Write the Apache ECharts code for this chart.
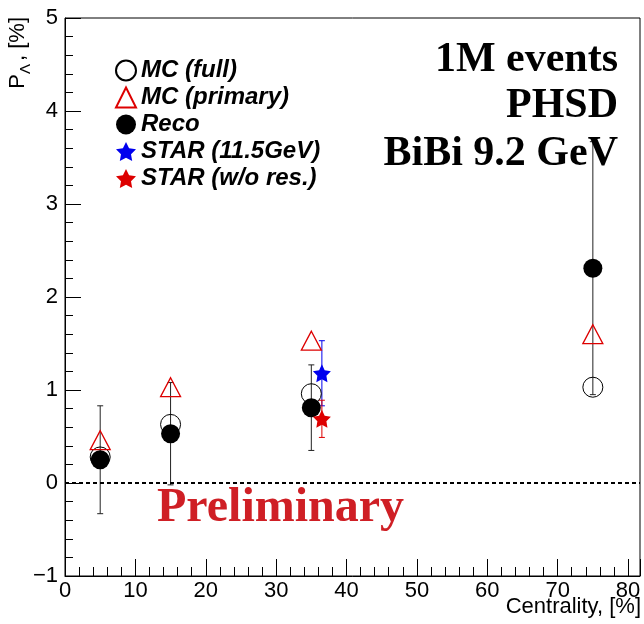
<!DOCTYPE html>
<html>
<head>
<meta charset="utf-8">
<script src="https://cdn.jsdelivr.net/npm/echarts@6/dist/echarts.min.js"></script>
<style>
  html, body { margin: 0; padding: 0; background: #fff; }
  #chart { width: 644px; height: 624px; }
</style>
</head>
<body>
<div id="chart"></div>
<script>
// centrality bins
const centrality = [5, 15, 35, 75];
// MC (full)
const mcFull = [0.28, 0.63, 0.96, 1.03];
// MC (primary)
const mcPrimary = [0.46, 1.03, 1.53, 1.60];
// Reco with errors
const reco = [0.25, 0.53, 0.81, 2.31];
const recoErr = [0.58, 0.55, 0.46, 1.36];
// STAR points
const starX = [36.5];
const star115 = [1.18];
const star115Err = [0.35];
const starNoRes = [0.69];
const starNoResErr = [0.2];

const sans = 'Liberation Sans, Arial, sans-serif';
const serif = 'Liberation Serif, Times New Roman, serif';
const starPath = 'path://M0,-10L2.94,-4.05L9.51,-3.09L4.76,1.55L5.88,8.09L0,5L-5.88,8.09L-4.76,1.55L-9.51,-3.09L-2.94,-4.05Z';

const pairs = (xs, ys) => xs.map((x, i) => [x, ys[i]]);
const triples = (xs, ys, es) => xs.map((x, i) => [x, ys[i], es[i]]);

// vertical error bar with small caps
function errBar(color) {
  return function (params, api) {
    const x = api.value(0), y = api.value(1), e = api.value(2);
    const top = api.coord([x, y + e]);
    const bot = api.coord([x, y - e]);
    const w = 3;
    const st = { stroke: color, lineWidth: 1 };
    return {
      type: 'group',
      children: [
        { type: 'line', shape: { x1: top[0], y1: top[1], x2: bot[0], y2: bot[1] }, style: st },
        { type: 'line', shape: { x1: top[0] - w, y1: top[1], x2: top[0] + w, y2: top[1] }, style: st },
        { type: 'line', shape: { x1: bot[0] - w, y1: bot[1], x2: bot[0] + w, y2: bot[1] }, style: st }
      ]
    };
  };
}

const chart = echarts.init(document.getElementById('chart'));

const option = {
  animation: false,
  backgroundColor: '#fff',
  grid: {
    left: 65, top: 18, right: 4, bottom: 48,
    show: true, borderColor: '#000', borderWidth: 1, backgroundColor: 'transparent'
  },
  xAxis: {
    type: 'value', min: 0, max: 81.7, interval: 10,
    axisLine: { onZero: false, lineStyle: { color: '#000', width: 1 } },
    axisTick: { inside: true, length: 17, lineStyle: { color: '#000' } },
    minorTick: { show: true, splitNumber: 5, length: 9, lineStyle: { color: '#000' } },
    splitLine: { show: false },
    axisLabel: { showMaxLabel: false, color: '#000', fontFamily: sans, fontSize: 22, margin: 4 }
  },
  yAxis: {
    type: 'value', min: -1, max: 5, interval: 1,
    axisLine: { show: true, onZero: false, lineStyle: { color: '#000', width: 1 } },
    axisTick: { show: true, inside: true, length: 16, lineStyle: { color: '#000' } },
    minorTick: { show: true, splitNumber: 5, length: 8, lineStyle: { color: '#000' } },
    splitLine: { show: false },
    axisLabel: {
      color: '#000', fontFamily: sans, fontSize: 22, margin: 7,
      formatter: v => (v < 0 ? '\u2212' + (-v) : String(v))
    }
  },
  legend: {
    left: 110, top: 52, orient: 'vertical',
    itemWidth: 20, itemHeight: 20, itemGap: 0,
    textStyle: {
      color: '#000', fontFamily: sans, fontSize: 24, fontStyle: 'italic', fontWeight: 'bold',
      lineHeight: 27, padding: [0, 0, 0, 0]
    },
    data: ['MC (full)', 'MC (primary)', 'Reco', 'STAR (11.5GeV)', 'STAR (w/o res.)']
  },
  series: [
    {
      type: 'custom', name: 'recoErr', renderItem: errBar('#222'), silent: true,
      encode: { x: 0, y: 1 }, data: triples(centrality, reco, recoErr), z: 1
    },
    {
      type: 'custom', name: 'star115Err', renderItem: errBar('#0000ee'), silent: true,
      encode: { x: 0, y: 1 }, data: triples(starX, star115, star115Err), z: 1
    },
    {
      type: 'custom', name: 'starNoResErr', renderItem: errBar('#dd0000'), silent: true,
      encode: { x: 0, y: 1 }, data: triples(starX, starNoRes, starNoResErr), z: 1
    },
    {
      type: 'scatter', name: 'MC (full)', symbol: 'circle', symbolSize: 20, z: 3,
      itemStyle: { color: 'rgba(255,255,255,0)', borderColor: '#000', borderWidth: 1, opacity: 1 },
      data: pairs(centrality, mcFull)
    },
    {
      type: 'scatter', name: 'MC (primary)', symbol: 'triangle', symbolSize: [20, 19], z: 3,
      itemStyle: { color: 'rgba(255,255,255,0)', borderColor: '#dd0000', borderWidth: 1.3, opacity: 1 },
      data: pairs(centrality, mcPrimary)
    },
    {
      type: 'scatter', name: 'Reco', symbol: 'circle', symbolSize: 19, z: 4,
      itemStyle: { color: '#000', opacity: 1 },
      data: pairs(centrality, reco),
      markLine: {
        silent: true, symbol: 'none', label: { show: false },
        lineStyle: { color: '#000', type: [4, 3], width: 2 },
        data: [{ yAxis: 0 }]
      }
    },
    {
      type: 'scatter', name: 'STAR (11.5GeV)', symbol: starPath, symbolSize: 18, z: 4,
      itemStyle: { color: '#0000ee', opacity: 1 },
      data: pairs(starX, star115)
    },
    {
      type: 'scatter', name: 'STAR (w/o res.)', symbol: starPath, symbolSize: 18, z: 4,
      itemStyle: { color: '#dd0000', opacity: 1 },
      data: pairs(starX, starNoRes)
    }
  ],
  graphic: [
    {
      type: 'text', x: 618, y: 60, z: 10,
      style: { text: '1M events', font: 'bold 42px ' + serif, fill: '#000', align: 'right', verticalAlign: 'middle' }
    },
    {
      type: 'text', x: 618, y: 106, z: 10,
      style: { text: 'PHSD', font: 'bold 42px ' + serif, fill: '#000', align: 'right', verticalAlign: 'middle' }
    },
    {
      type: 'text', x: 618, y: 154, z: 10,
      style: { text: 'BiBi 9.2 GeV', font: 'bold 42px ' + serif, fill: '#000', align: 'right', verticalAlign: 'middle' }
    },
    {
      type: 'text', x: 157, y: 509, z: 10,
      style: { text: 'Preliminary', font: 'bold 48px ' + serif, fill: '#cf1f25', align: 'left', verticalAlign: 'middle' }
    },
    {
      type: 'text', x: 641, y: 607, z: 10,
      style: { text: 'Centrality, [%]', font: '22px ' + sans, fill: '#000', align: 'right', verticalAlign: 'middle' }
    },
    {
      type: 'text', x: 18, y: 17, rotation: Math.PI / 2, z: 10,
      style: {
        text: '{a|P}{b|\u039B}{a|, [%]}', align: 'right', verticalAlign: 'middle',
        rich: {
          a: { fontFamily: sans, fontSize: 22, fill: '#000', lineHeight: 30, verticalAlign: 'middle' },
          b: { fontFamily: sans, fontSize: 15, fill: '#000', lineHeight: 30, verticalAlign: 'bottom', padding: [0, 3, 0, 0] }
        }
      }
    }
  ]
};

chart.setOption(option);
</script>
</body>
</html>
